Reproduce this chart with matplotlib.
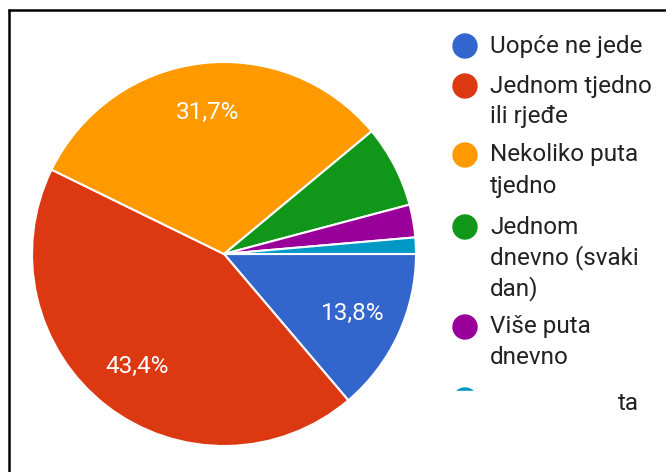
import matplotlib
matplotlib.use('Agg')
import matplotlib.pyplot as plt
from matplotlib.patches import Circle, Rectangle

plt.rcParams['font.family'] = ['Roboto', 'DejaVu Sans']

# responses per answer (shares: 13,8 / 43,4 / 31,7 / ...)
labels = [
    'Uopće ne jede',
    'Jednom tjedno\nili rjeđe',
    'Nekoliko puta\ntjedno',
    'Jednom\ndnevno (svaki\ndan)',
    'Više puta\ndnevno',
    'ta',
]
counts = [20, 63, 46, 10, 4, 2]
colors = ['#3366cc', '#dc3912', '#ff9900', '#109618', '#990099', '#0099c6']

W, H = 666, 472
fig = plt.figure(figsize=(W / 100, H / 100), dpi=100)
fig.patch.set_facecolor('white')

# pie axes: centre (224, 254) px, radius 192 px
cx, cy, r = 224, 254, 192
ax = fig.add_axes([(cx - r) / W, (H - cy - r) / H, 2 * r / W, 2 * r / H])


def fmt(p):
    if p < 10:
        return ''
    return f'{p:.1f}%'.replace('.', ',')


wedges, texts, autotexts = ax.pie(
    counts, colors=colors, startangle=0, counterclock=False,
    autopct=fmt, pctdistance=0.74, radius=1.0,
    wedgeprops=dict(edgecolor='white', linewidth=1.5),
    textprops=dict(color='white', fontsize=17.5))
ax.set_xlim(-1.0, 1.0)
ax.set_ylim(-1.0, 1.0)
ax.set_aspect('equal')
ax.axis('off')

# overlay axes in pixel coords for legend + frame
ov = fig.add_axes([0, 0, 1, 1], zorder=5)
ov.set_xlim(0, W)
ov.set_ylim(H, 0)
ov.axis('off')
ov.patch.set_alpha(0)

item_y = [46, 86, 155, 227, 327, 400]
line_h = 31
for i, (lab, col, y) in enumerate(zip(labels, colors, item_y)):
    if i == len(labels) - 1:
        # last entry is cut off in the source image
        ov.add_patch(Circle((465, y), 12, color=col))
        ov.add_patch(Rectangle((440, 391), 175, 90, color='white', zorder=3))
        ov.text(618, y + 3, lab, fontsize=17.5, color='#222222', va='center', ha='left', zorder=4)
        continue
    ov.add_patch(Circle((465, y), 12, color=col))
    for j, line in enumerate(lab.split('\n')):
        ov.text(490, y + j * line_h, line, fontsize=17.5, color='#222222',
                va='center', ha='left')

# black frame (top and left edge)
ov.plot([8, W], [10, 10], color='black', lw=1.8, solid_capstyle='butt', zorder=6)
ov.plot([9, 9], [9, H], color='black', lw=1.8, solid_capstyle='butt', zorder=6)

fig.savefig('out.png', dpi=100)
plt.close(fig)
